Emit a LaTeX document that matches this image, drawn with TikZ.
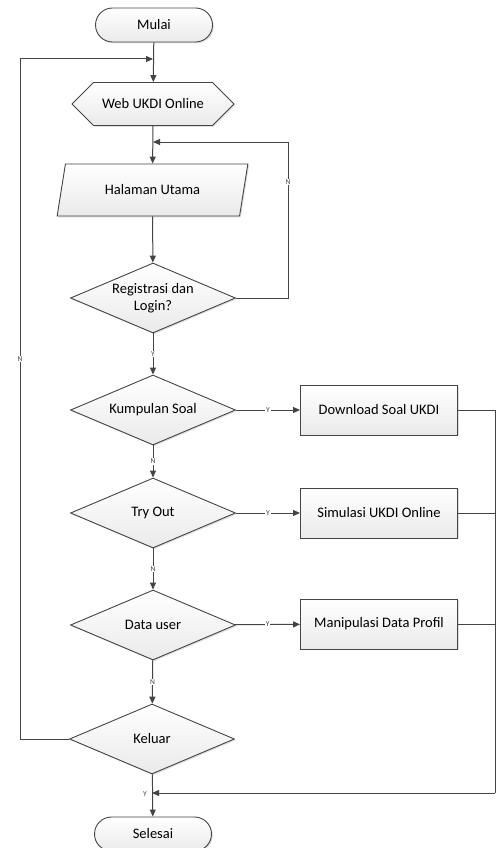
\documentclass[tikz,border=0pt]{standalone}
\usepackage{fontspec}
\setmainfont{Carlito}
\usetikzlibrary{arrows.meta,shapes.geometric,shapes.misc,shapes.symbols,shadows,positioning}

\definecolor{linegray}{HTML}{444444}
\definecolor{fillgray}{HTML}{EAEAEA}

\tikzset{
  base/.style={draw=linegray, line width=0.9pt, top color=white, bottom color=fillgray,
    drop shadow={shadow xshift=1.3pt, shadow yshift=-1.3pt, opacity=0.25},
    font=\fontsize{14.5}{17.5}\selectfont, inner sep=0pt, align=center},
  term/.style={base, rounded rectangle, minimum width=117pt, minimum height=34pt},
  prep/.style={base, signal, signal to=east and west, signal pointer angle=90,
    minimum width=162pt, minimum height=43pt},
  io/.style={base, trapezium, trapezium left angle=66, trapezium right angle=114,
    trapezium stretches=true, minimum width=191pt, minimum height=52pt},
  decision/.style={base, diamond, aspect=2.36, minimum width=165pt, minimum height=70pt},
  process/.style={base, rectangle, minimum width=157pt, minimum height=50pt},
  link/.style={draw=linegray, line width=1pt},
  flow/.style={link, -{Triangle[length=7pt,width=6pt]}},
  lbl/.style={font=\fontsize{7.5}{8}\selectfont, text=linegray, fill=white, inner sep=1pt}
}

\begin{document}
\begin{tikzpicture}[x=1pt,y=1pt]
\useasboundingbox (0,0) rectangle (501,-848);

% main column
\node[term] (mulai) at (154,-25) {Mulai};
\node[prep] (web) at (153,-104) {Web UKDI Online};
\node[io] (hal) at (152.5,-190) {Halaman Utama};
\node[decision] (reg) at (153,-298) {Registrasi dan\\Login?};
\node[decision] (kum) at (153,-410) {Kumpulan Soal};
\node[decision] (try) at (153,-513) {Try Out};
\node[decision] (dat) at (153,-625) {Data user};
\node[decision] (kel) at (152,-739) {Keluar};
\node[term] (sel) at (153,-834) {Selesai};

% process boxes
\node[process] (dl) at (379,-410) {Download Soal UKDI};
\node[process] (sim) at (379,-513) {Simulasi UKDI Online};
\node[process] (man) at (379,-624) {Manipulasi Data Profil};

% helper points
\coordinate (ltop) at (153,-59);
\coordinate (lbot) at (20,-739);
\coordinate (rtop) at (153,-142);
\coordinate (rcor) at (288,-142);
\coordinate (rbot) at (495,-793);

% flow
\draw[flow] (mulai) -- (web);
\draw[flow] (web) -- (hal);
\draw[flow] (hal) -- (reg);
\draw[flow] (reg.east) -| (rcor) -- (rtop);
\node[lbl] (nreg) at (288,-182) {N};
\draw[flow] (reg) -- node[lbl] (yreg) {Y} (kum);
\draw[flow] (kum) -- node[lbl] (nkum) {N} (try);
\draw[flow] (try) -- node[lbl] (ntry) {N} (dat);
\draw[flow] (dat) -- node[lbl] (ndat) {N} (kel);
\draw[flow] (kum) -- node[lbl] (ykum) {Y} (dl);
\draw[flow] (try) -- node[lbl] (ytry) {Y} (sim);
\draw[flow] (dat) -- node[lbl] (ydat) {Y} (man);

% back to start
\draw[flow] (kel.west) -- (lbot) |- (ltop);
\node[lbl] (nkel) at (20,-359) {N};

% collect to end
\draw[link] (dl.east) -- (dl.east -| rbot) -- (rbot);
\draw[link] (sim.east) -- (sim.east -| rbot);
\draw[link] (man.east) -- (man.east -| rbot);
\draw[flow] (rbot) -- (rbot -| kel.south);
\draw[flow] (kel) -- (sel);
\node[lbl, fill=none] (ykel) at (145,-794) {Y};
\end{tikzpicture}
\end{document}
